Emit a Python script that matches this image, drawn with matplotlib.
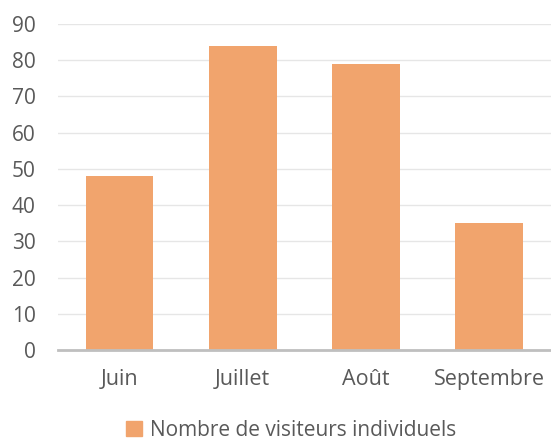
import matplotlib.pyplot as plt
from matplotlib.patches import Patch

## Data
mois = ["Juin", "Juillet", "Août", "Septembre"]
visiteurs = [48, 84, 79, 35]
serie = "Nombre de visiteurs individuels"

bar_color = "#F1A46D"
txt_color = "#595959"

plt.rcParams['font.family'] = ['Open Sans', 'DejaVu Sans']

fig = plt.figure(figsize=(5.51, 4.41), dpi=100)
ax = fig.add_axes([0.105, 0.2063, 0.895, 0.7393])

ax.bar(mois, visiteurs, width=0.55, color=bar_color, zorder=3)

ax.set_ylim(0, 90)
ax.set_xlim(-0.5, 3.5)
ax.set_yticks(range(0, 91, 10))
ax.grid(axis='y', color='#E6E6E6', linewidth=1, zorder=0)
ax.set_axisbelow(True)

for s in ['top', 'right', 'left']:
    ax.spines[s].set_visible(False)
ax.spines['bottom'].set_color('#BFBFBF')
ax.spines['bottom'].set_linewidth(2)
ax.spines['bottom'].set_zorder(4)

ax.tick_params(axis='y', length=0, pad=16, labelsize=15, labelcolor=txt_color)
ax.tick_params(axis='x', length=0, pad=14, labelsize=15.5, labelcolor=txt_color)

# legend at the bottom
fig.legend(handles=[Patch(color=bar_color, label=serie)], loc='center',
           bbox_to_anchor=(0.529, 0.024), frameon=False, fontsize=15,
           labelcolor=txt_color, handlelength=0.75, handleheight=0.75,
           handletextpad=0.4, borderpad=0, borderaxespad=0)

fig.savefig("out.png", dpi=100)
